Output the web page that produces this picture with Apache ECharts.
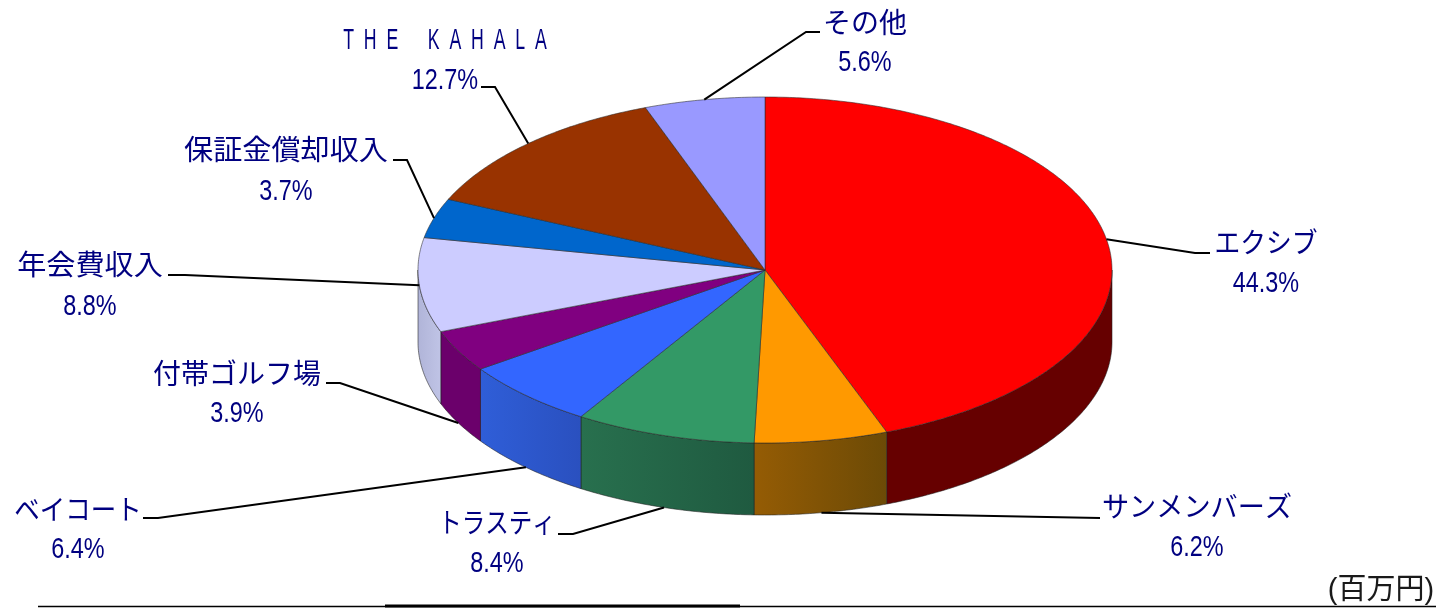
<!DOCTYPE html>
<html>
<head>
<meta charset="utf-8">
<style>
  html, body { margin: 0; padding: 0; background: #fff; }
  #chart { width: 1436px; height: 608px; }
</style>
<script src="https://cdn.jsdelivr.net/npm/echarts@6/dist/echarts.min.js"></script>
</head>
<body>
<div id="chart"></div>
<script>
// shares, clockwise from 12 o'clock
const names = ['エクシブ', 'サンメンバーズ', 'トラスティ', 'ベイコート', '付帯ゴルフ場', '年会費収入', '保証金償却収入', 'T  H  E      K  A  H  A  L  A', 'その他'];
const values = [44.3, 6.2, 8.4, 6.4, 3.9, 8.8, 3.7, 12.7, 5.6];
const unitLabel = '(百万円)';

const topColors = ['#ff0000', '#ff9900', '#339966', '#3366ff', '#800080', '#ccccff', '#0066cc', '#993300', '#9999ff'];
const wallColors = [
  ['#660000', '#660000'], ['#955c04', '#6c4a06'], ['#28704e', '#1f5a40'], ['#2f5ed8', '#2a50bf'],
  ['#6b006b', '#6b006b'], ['#b0b4d8', '#c0c4e6'], ['#004d99', '#004d99'], ['#662200', '#662200'], ['#7777cc', '#7777cc']
];

// label placement: [centre x, name y, percent y, name scaleX, percent scaleX]
const labelPos = [
  [1266, 245, 284, 0.92, 0.78], [1197, 509, 548, 0.97, 0.78], [497, 525, 564, 0.84, 0.78],
  [78, 512, 550, 0.91, 0.78], [237, 376, 414, 1.0, 0.78], [90, 267, 307, 1.04, 0.78],
  [286, 152, 192, 1.04, 0.78], [445, 41, 81, 1.0, 0.78], [865, 25, 63, 1.0, 0.78]
];
// leader line bend and end, the start comes from the slice angle
const leaderPos = [
  [[1195, 253], [1210, 253]], [[1100, 518], [1100, 518]], [[573, 534], [558, 534]],
  [[158, 518], [143, 518]], [[340, 383], [326, 383]], [[185, 275], [168, 275]],
  [[407, 160], [393, 160]], [[495, 87], [481, 87]], [[806, 32], [820, 32]]
];

const cx = 765, cy = 270, rx = 347, ry = 173, depth = 72;
const fontFamily = '"Liberation Sans", "Noto Sans CJK JP", sans-serif';
const textColor = '#000080';

const total = values.reduce((a, b) => a + b, 0);
const ends = [];
values.reduce((sum, v, i) => (ends[i] = sum + v), 0);

function angleOf(share) {
  return share / total * Math.PI * 2;
}
function edgePoint(t, drop) {
  return [cx + rx * Math.sin(t), cy - ry * Math.cos(t) + drop];
}
function arc(t0, t1, drop) {
  const pts = [];
  const n = Math.max(2, Math.ceil(Math.abs(t1 - t0) / 0.01));
  for (let i = 0; i <= n; i++) pts.push(edgePoint(t0 + (t1 - t0) * i / n, drop));
  return pts;
}

function renderWall(params) {
  const i = params.dataIndex;
  const t0 = Math.max(angleOf(i ? ends[i - 1] : 0), Math.PI / 2);
  const t1 = Math.min(angleOf(ends[i]), Math.PI * 1.5);
  if (t1 <= t0) return null;
  const pts = arc(t0, t1, 0).concat(arc(t1, t0, depth));
  return {
    type: 'polygon',
    shape: { points: pts },
    style: {
      fill: new echarts.graphic.LinearGradient(0, 0, 1, 0, [
        { offset: 0, color: wallColors[i][0] },
        { offset: 1, color: wallColors[i][1] }
      ]),
      stroke: 'rgba(30,30,30,0.55)',
      lineWidth: 1
    }
  };
}

function renderTop(params) {
  const i = params.dataIndex;
  const t0 = angleOf(i ? ends[i - 1] : 0);
  const t1 = angleOf(ends[i]);
  return {
    type: 'polygon',
    shape: { points: [[cx, cy]].concat(arc(t0, t1, 0)) },
    style: { fill: topColors[i], stroke: 'rgba(40,40,40,0.55)', lineWidth: 1 }
  };
}

function renderLabel(params) {
  const i = params.dataIndex;
  const mid = angleOf((i ? ends[i - 1] : 0) + values[i] / 2);
  const onWall = mid > Math.PI * 0.6 && mid < Math.PI * 1.4;
  const start = edgePoint(mid, onWall ? depth : 0);
  const p = labelPos[i];
  const latin = i === 7;
  return {
    type: 'group',
    children: [
      {
        type: 'polyline',
        shape: { points: [start, leaderPos[i][0], leaderPos[i][1]] },
        style: { stroke: '#000', lineWidth: 2, fill: null }
      },
      {
        type: 'text',
        x: p[0], y: p[1], scaleX: latin ? 0.59 : p[3],
        style: {
          text: names[i], fill: textColor, align: 'center', verticalAlign: 'middle',
          font: (latin ? 30 : 28) + 'px ' + fontFamily
        }
      },
      {
        type: 'text',
        x: p[0], y: p[2], scaleX: p[4],
        style: {
          text: values[i].toFixed(1) + '%', fill: textColor, align: 'center', verticalAlign: 'middle',
          font: '30px ' + fontFamily
        }
      }
    ]
  };
}

const chart = echarts.init(document.getElementById('chart'), null, { renderer: 'canvas' });

function sliceSeries(renderItem, z) {
  return { type: 'custom', coordinateSystem: 'none', renderItem, data: values, z, clip: false, silent: true, animation: false };
}

chart.setOption({
  animation: false,
  backgroundColor: '#fff',
  series: [sliceSeries(renderWall, 1), sliceSeries(renderTop, 2), sliceSeries(renderLabel, 3)],
  graphic: [
    { type: 'line', shape: { x1: 38, y1: 606.5, x2: 1436, y2: 606.5 }, style: { stroke: '#000', lineWidth: 1.5 } },
    { type: 'line', shape: { x1: 385, y1: 606, x2: 740, y2: 606 }, style: { stroke: '#000', lineWidth: 3 } },
    {
      type: 'text', x: 1381, y: 591,
      style: { text: unitLabel, fill: '#1a1a1a', align: 'center', verticalAlign: 'middle', font: '29px ' + fontFamily }
    }
  ]
});
</script>
</body>
</html>
